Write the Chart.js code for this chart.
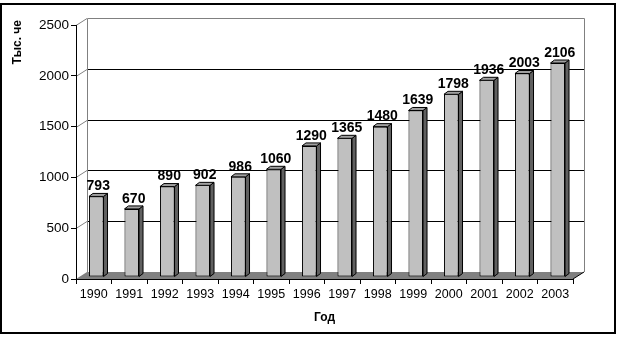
<!DOCTYPE html>
<html><head><meta charset="utf-8">
<script src="https://cdn.jsdelivr.net/npm/chart.js@4"></script>
<style>html,body{margin:0;padding:0;background:#fff}canvas{display:block}</style>
</head><body>
<canvas id="c" width="624" height="339"></canvas>
<script>
const years = ['1990','1991','1992','1993','1994','1995','1996','1997','1998','1999','2000','2001','2002','2003'];
const values = [793, 670, 890, 902, 986, 1060, 1290, 1365, 1480, 1639, 1798, 1936, 2003, 2106];
const yTickValues = [0, 500, 1000, 1500, 2000, 2500];
const xTitle = 'Год';
const yTitle = 'Тыс. че';

const WALL_DX = 11, WALL_DY = -7;
const BAR_SHIFT_X = 2.5, BAR_SHIFT_Y = -2;
const BAR_DX = 4, BAR_DY = -3;
const FONT = '"Liberation Sans", Arial, sans-serif';

const scene = {
  id: 'scene',
  beforeDraw(chart) {
    const {ctx, chartArea: a, scales: {y}} = chart;
    ctx.save();
    ctx.strokeStyle = '#000';
    ctx.lineWidth = 2;
    ctx.strokeRect(1, 4, 614, 329);
    ctx.fillStyle = '#808080';
    ctx.beginPath();
    ctx.moveTo(a.left, a.bottom);
    ctx.lineTo(a.right, a.bottom);
    ctx.lineTo(a.right + WALL_DX, a.bottom + WALL_DY);
    ctx.lineTo(a.left + WALL_DX, a.bottom + WALL_DY);
    ctx.closePath();
    ctx.fill();
    ctx.lineWidth = 1;
    ctx.strokeStyle = '#000';
    ctx.beginPath();
    ctx.moveTo(a.right, a.bottom);
    ctx.lineTo(a.right + WALL_DX, a.bottom + WALL_DY);
    ctx.stroke();
    yTickValues.forEach(v => {
      const py = y.getPixelForValue(v);
      const by = Math.round(py + WALL_DY) + 0.5;
      if (v > 0 && v < yTickValues[yTickValues.length - 1]) {
        ctx.strokeStyle = '#000';
        ctx.beginPath();
        ctx.moveTo(a.left + WALL_DX, by);
        ctx.lineTo(a.right + WALL_DX, by);
        ctx.stroke();
      }
      if (v > 0) {
        ctx.strokeStyle = '#808080';
        ctx.beginPath();
        ctx.moveTo(a.left, Math.round(py) + 0.5);
        ctx.lineTo(a.left + WALL_DX, by);
        ctx.stroke();
      }
    });
    const top = Math.round(y.getPixelForValue(yTickValues[yTickValues.length - 1]) + WALL_DY) + 0.5;
    const bot = a.bottom + WALL_DY;
    const wl = Math.round(a.left + WALL_DX) + 0.5;
    const wr = Math.round(a.right + WALL_DX) + 0.5;
    ctx.strokeStyle = '#808080';
    ctx.beginPath();
    ctx.moveTo(wl, bot);
    ctx.lineTo(wl, top);
    ctx.lineTo(wr, top);
    ctx.lineTo(wr, bot);
    ctx.stroke();
    ctx.restore();
  },
  beforeDatasetsDraw(chart) {
    chart.ctx.save();
    chart.ctx.translate(BAR_SHIFT_X, BAR_SHIFT_Y);
  },
  afterDatasetsDraw(chart) {
    const ctx = chart.ctx;
    const meta = chart.getDatasetMeta(0);
    ctx.lineWidth = 1;
    ctx.strokeStyle = '#000';
    meta.data.forEach(el => {
      const {x, y, base, width} = el.getProps(['x', 'y', 'base', 'width'], true);
      const L = x - width / 2, R = x + width / 2;
      ctx.fillStyle = '#606060';
      ctx.beginPath();
      ctx.moveTo(R, y);
      ctx.lineTo(R + BAR_DX, y + BAR_DY);
      ctx.lineTo(R + BAR_DX, base + BAR_DY);
      ctx.lineTo(R, base);
      ctx.closePath();
      ctx.fill();
      ctx.stroke();
      ctx.fillStyle = '#a0a0a0';
      ctx.beginPath();
      ctx.moveTo(L, y);
      ctx.lineTo(L + BAR_DX, y + BAR_DY);
      ctx.lineTo(R + BAR_DX, y + BAR_DY);
      ctx.lineTo(R, y);
      ctx.closePath();
      ctx.fill();
      ctx.stroke();
    });
    ctx.restore();
    ctx.save();
    ctx.fillStyle = '#000';
    ctx.font = 'bold 14px ' + FONT;
    ctx.textAlign = 'center';
    ctx.textBaseline = 'middle';
    meta.data.forEach((el, i) => {
      const {x, y} = el.getProps(['x', 'y'], true);
      ctx.fillText(String(values[i]), x + BAR_SHIFT_X + 2, y + BAR_SHIFT_Y - 10);
    });
    ctx.restore();
  },
  afterDraw(chart) {
    const ctx = chart.ctx;
    ctx.save();
    ctx.fillStyle = '#000';
    ctx.font = 'bold 12px ' + FONT;
    ctx.translate(17.5, 20);
    ctx.rotate(-Math.PI / 2);
    ctx.textAlign = 'right';
    ctx.textBaseline = 'middle';
    ctx.fillText(yTitle, 0, 0);
    ctx.restore();
  }
};

new Chart(document.getElementById('c'), {
  type: 'bar',
  data: {
    labels: years,
    datasets: [{
      data: values,
      backgroundColor: '#c0c0c0',
      borderColor: '#000',
      borderWidth: 1,
      borderSkipped: false,
      categoryPercentage: 1,
      barPercentage: 0.41,
      clip: false
    }]
  },
  options: {
    responsive: false,
    animation: false,
    devicePixelRatio: 1,
    layout: {padding: {left: 0, right: 51, top: 25, bottom: 0}},
    plugins: {legend: {display: false}, tooltip: {enabled: false}},
    scales: {
      x: {
        afterFit(s) { s.height = 60; },
        grid: {drawOnChartArea: false, drawTicks: true, tickLength: 5, color: '#000', offset: true},
        border: {display: true, color: '#000', width: 1},
        ticks: {color: '#000', font: {family: FONT, size: 12.5}, padding: 3, maxRotation: 0, autoSkip: false},
        title: {display: true, text: xTitle, color: '#000', font: {family: FONT, size: 12, weight: 'bold'}, padding: {top: 0, bottom: 14}}
      },
      y: {
        min: 0, max: 2500,
        afterFit(s) { s.width = 76; },
        afterBuildTicks(s) { s.ticks = yTickValues.map(v => ({value: v})); },
        grid: {drawOnChartArea: false, drawTicks: true, tickLength: 5, color: '#000'},
        border: {display: true, color: '#000', width: 1},
        ticks: {color: '#000', font: {family: FONT, size: 13.5}, padding: 2, callback: v => String(v)}
      }
    }
  },
  plugins: [scene]
});
</script>
</body></html>
